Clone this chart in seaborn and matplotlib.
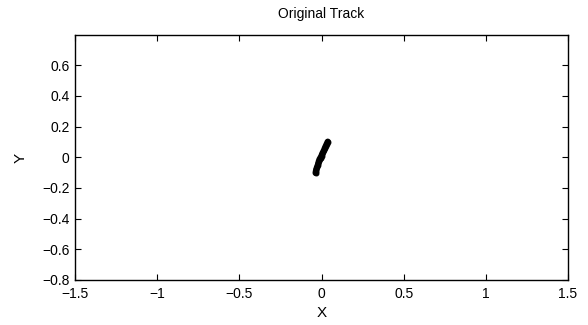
import matplotlib
matplotlib.use("Agg")
import matplotlib.pyplot as plt
import seaborn as sns
import pandas as pd

track_x = [-0.036, -0.034, -0.031, -0.027, -0.022, -0.019, -0.016, -0.012, -0.006, 0.000, 0.004, 0.010, 0.016, 0.021, 0.027, 0.033, 0.038]
track_y = [-0.102, -0.090, -0.077, -0.063, -0.050, -0.037, -0.025, -0.013, -0.002, 0.010, 0.022, 0.035, 0.048, 0.062, 0.076, 0.090, 0.102]
x_ticks = [-1.5, -1, -0.5, 0, 0.5, 1, 1.5]
x_tick_labels = ["\u22121.5", "\u22121", "\u22120.5", "0", "0.5", "1", "1.5"]
y_ticks = [-0.8, -0.6, -0.4, -0.2, 0, 0.2, 0.4, 0.6]
y_tick_labels = ["\u22120.8", "\u22120.6", "\u22120.4", "\u22120.2", "0", "0.2", "0.4", "0.6"]

sns.set_theme(style="white")
plt.rcParams["font.family"] = ["Liberation Sans", "DejaVu Sans"]
plt.rcParams["xtick.direction"] = "in"
plt.rcParams["ytick.direction"] = "in"

df = pd.DataFrame({"X": track_x, "Y": track_y})

fig = plt.figure(figsize=(5.88, 3.25), dpi=100)
ax = fig.add_axes([0.1276, 0.1385, 0.8384, 0.7535])
sns.lineplot(data=df, x="X", y="Y", sort=False, color="black", linewidth=4.5,
             marker="o", markersize=3.5, markeredgecolor="black", ax=ax)

ax.set_xlim(-1.5, 1.5)
ax.set_ylim(-0.8, 0.797)
ax.set_xticks(x_ticks)
ax.set_xticklabels(x_tick_labels)
ax.set_yticks(y_ticks)
ax.set_yticklabels(y_tick_labels)
ax.tick_params(which="both", direction="in", length=4, width=0.8, colors="black",
               labelsize=10, top=True, right=True, bottom=True, left=True)
ax.tick_params(axis="x", pad=5)
ax.tick_params(axis="y", pad=4)
for s in ax.spines.values():
    s.set_color("black")
    s.set_linewidth(1.0)
ax.set_title("Original Track", fontsize=10, color="black", pad=12)
ax.set_xlabel("X", fontsize=11, color="black", labelpad=4)
ax.set_ylabel("Y", fontsize=11, color="black", labelpad=10)
ax.grid(False)

fig.savefig("out.png", dpi=100, facecolor="white")
